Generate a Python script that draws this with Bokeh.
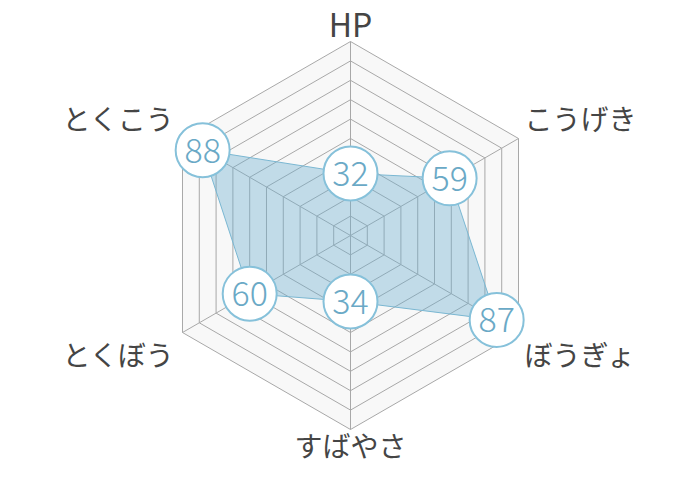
import numpy as np
from bokeh.plotting import figure
from bokeh.models import Range1d, ColumnDataSource
from bokeh.embed import file_html
from bokeh.resources import INLINE
from bokeh.core.properties import value

# ---- data ----
categories = ["HP", "こうげき", "ぼうぎょ", "すばやさ", "とくぼう", "とくこう"]
values = [32, 59, 87, 34, 60, 88]
max_value = 100
ring_levels = [10, 20, 30, 40, 50, 60, 70, 80, 90, 100]

# ---- geometry (pixel-like data space; y up, y = 480 - screen y) ----
W, H = 684, 464
CX, CY = 350.0, 245.0
R = 194.0
FONT = "Noto Sans CJK JP"
NUM_FONT = "Noto Sans CJK JP Light"

n = len(categories)
ang = np.deg2rad(90 - 360.0 / n * np.arange(n))
ca, sa = np.cos(ang), np.sin(ang)

p = figure(width=W, height=H, x_range=Range1d(0, 684), y_range=Range1d(16, 480),
           output_backend="svg", toolbar_location=None, min_border=0)
p.axis.visible = False
p.grid.visible = False
p.outline_line_color = None
p.background_fill_color = "white"
p.border_fill_color = "white"

# background of the web
outer_x = list(CX + R * ca)
outer_y = list(CY + R * sa)
p.patch(outer_x, outer_y, fill_color="#f8f8f8", line_color=None)

# rings
rx, ry = [], []
for lv in ring_levels:
    r = R * lv / max_value
    rx.append(list(CX + r * ca) + [CX + r * ca[0]])
    ry.append(list(CY + r * sa) + [CY + r * sa[0]])
p.multi_line(rx, ry, line_color="#a8a8a8", line_width=1)

# spokes
sx = [[CX, CX + R * c] for c in ca]
sy = [[CY, CY + R * s] for s in sa]
p.multi_line(sx, sy, line_color="#a8a8a8", line_width=1)

# data polygon
vals = np.array(values, dtype=float) / max_value
px = CX + R * vals * ca
py = CY + R * vals * sa
p.patch(list(px), list(py), fill_color="#6fb0cf", fill_alpha=0.4,
        line_color="#7ab7d2", line_width=1)

# value markers
src = ColumnDataSource(dict(x=px, y=py, t=[str(v) for v in values]))
p.scatter("x", "y", source=src, size=54, marker="circle", fill_color="white",
          line_color="#86c1da", line_width=2)
p.text("x", "y", text="t", source=src, text_font=value(NUM_FONT),
       text_font_size="34px", text_color="#6aa9c6", text_align="center",
       text_baseline="middle")

# category labels
lx, ly, la, ls = [], [], [], []
for c, s, name in zip(ca, sa, categories):
    vx, vy = CX + R * c, CY + R * s
    if abs(c) < 0.1:
        lx.append(vx)
        ly.append(vy + (19 if s > 0 else -15))
        la.append("center")
    else:
        lx.append(vx + (6 if c > 0 else -8))
        ly.append(vy + (21 if s > 0 else -21))
        la.append("left" if c > 0 else "right")
    ls.append("32px" if name.isascii() else "28px")
lsrc = ColumnDataSource(dict(x=lx, y=ly, t=categories, a=la, fs=ls))
p.text("x", "y", text="t", source=lsrc, text_font=value(FONT),
       text_font_size="fs", text_color="#454545", text_align="a",
       text_baseline="middle")

open("out.html", "w").write(file_html(p, INLINE))
